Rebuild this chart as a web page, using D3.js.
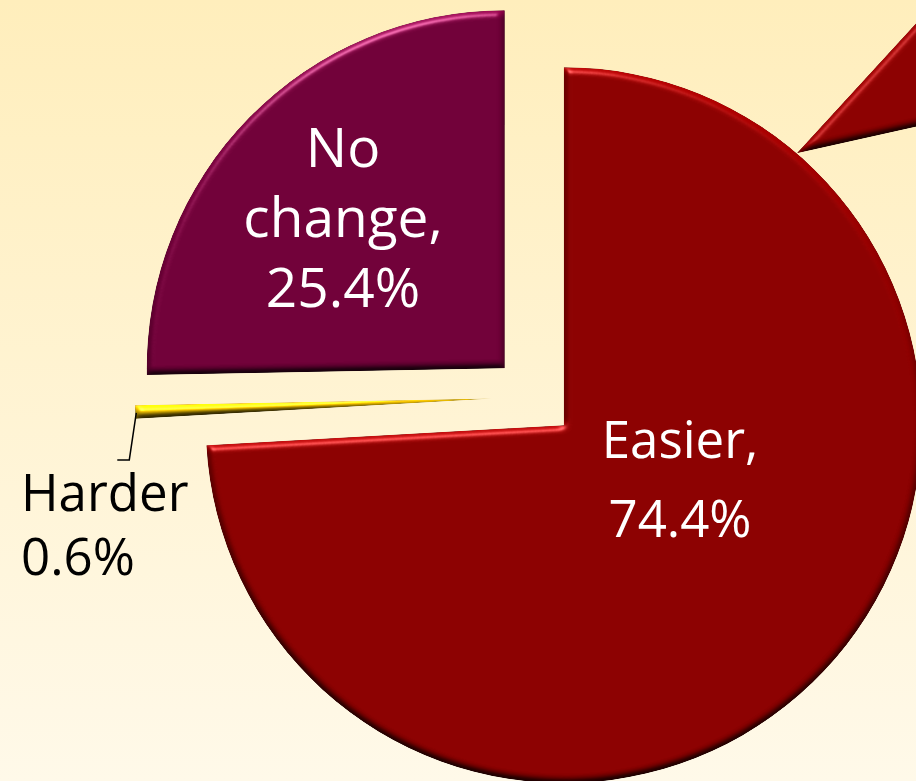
<!DOCTYPE html>
<html>
<head>
<meta charset="utf-8">
<script src="https://cdn.jsdelivr.net/npm/d3@7"></script>
<style>
  html, body { margin: 0; padding: 0; overflow: hidden; }
  svg { display: block; }
</style>
</head>
<body>
<script>
// ---- data ----
const categories = ["Easier", "Harder", "No change"];
const values = [74.4, 0.6, 25.4];
const labelLines = [["Easier,", "74.4%"], ["Harder", "0.6%"], ["No", "change,", "25.4%"]];
const colors = ["#8B0000", "#E9BA00", "#700038"];

// ---- layout ----
const W = 916, H = 781;
const cx = 534, cy = 397, R = 358, explode = 41;

const svg = d3.select("body").append("svg").attr("width", W).attr("height", H);
const defs = svg.append("defs");

const bg = defs.append("linearGradient").attr("id", "bg").attr("x1", 0).attr("y1", 0).attr("x2", 0).attr("y2", 1);
bg.append("stop").attr("offset", "0%").attr("stop-color", "#FFEEBC");
bg.append("stop").attr("offset", "100%").attr("stop-color", "#FFF9E9");

const elev = 50;
const f = defs.append("filter").attr("id", "bevel")
  .attr("x", "-2%").attr("y", "-2%").attr("width", "104%").attr("height", "104%")
  .attr("color-interpolation-filters", "sRGB");
f.append("feGaussianBlur").attr("in", "SourceAlpha").attr("stdDeviation", 3.6).attr("result", "b");
f.append("feDiffuseLighting").attr("in", "b").attr("surfaceScale", 4).attr("diffuseConstant", 1)
  .attr("lighting-color", "#fff").attr("result", "d")
  .append("feDistantLight").attr("azimuth", 270).attr("elevation", elev);
f.append("feComposite").attr("in", "SourceGraphic").attr("in2", "d").attr("operator", "arithmetic")
  .attr("k1", 1 / Math.sin(elev * Math.PI / 180)).attr("k2", 0).attr("k3", 0).attr("k4", 0).attr("result", "lit");
f.append("feSpecularLighting").attr("in", "b").attr("surfaceScale", 4).attr("specularConstant", 0.4)
  .attr("specularExponent", 40).attr("lighting-color", "#fff").attr("result", "s")
  .append("feDistantLight").attr("azimuth", 250).attr("elevation", 40);
f.append("feComposite").attr("in", "s").attr("in2", "SourceAlpha").attr("operator", "in").attr("result", "s2");
f.append("feComposite").attr("in", "lit").attr("in2", "s2").attr("operator", "arithmetic")
  .attr("k1", 0).attr("k2", 1).attr("k3", 1).attr("k4", 0).attr("result", "sum");
f.append("feComposite").attr("in", "sum").attr("in2", "SourceAlpha").attr("operator", "in");

svg.append("rect").attr("width", W).attr("height", H).attr("fill", "url(#bg)");

const pie = d3.pie().sort(null).value(d => d)(values);
const arc = d3.arc().innerRadius(0).outerRadius(R);
const polar = (a, r) => [Math.sin(a) * r, -Math.cos(a) * r];

const offsets = pie.map(p => polar((p.startAngle + p.endAngle) / 2, explode));

// callout wedge touching the Easier slice (top right)
const eo = offsets[0];
const tipA = 40.6 * Math.PI / 180;
const tip = polar(tipA, R);
svg.append("path")
  .attr("transform", `translate(${cx + eo[0] + tip[0]},${cy + eo[1] + tip[1]})`)
  .attr("d", d3.arc().innerRadius(0).outerRadius(260)({startAngle: 42.5 * Math.PI / 180, endAngle: 77.4 * Math.PI / 180}))
  .attr("fill", colors[0])
  .attr("filter", "url(#bevel)");

const g = svg.selectAll("g.slice").data(pie).join("g")
  .attr("class", "slice")
  .attr("transform", (d, i) => `translate(${cx + offsets[i][0]},${cy + offsets[i][1]})`);

g.append("path")
  .attr("d", arc)
  .attr("fill", (d, i) => colors[i])
  .attr("filter", "url(#bevel)");

// ---- labels ----
const font = "'Segoe UI', 'Open Sans', 'Noto Sans', sans-serif";
const labelStyle = [
  {x: 680, y: 458, size: 51, lh: 79, anchor: "middle", fill: "#fff"},
  {x: 21, y: 511, size: 51, lh: 64, anchor: "start", fill: "#000"},
  {x: 343, y: 167, size: 55, lh: 70, anchor: "middle", fill: "#fff"}
];

labelLines.forEach((lines, i) => {
  const s = labelStyle[i];
  const t = svg.append("text")
    .attr("x", s.x).attr("y", s.y)
    .attr("text-anchor", s.anchor)
    .attr("font-family", font)
    .attr("font-size", s.size)
    .attr("fill", s.fill);
  lines.forEach((ln, j) => {
    t.append("tspan").attr("x", s.x).attr("dy", j === 0 ? 0 : s.lh).text(ln);
  });
});

// leader line for Harder
const hp = pie[1];
const hA = (hp.startAngle + hp.endAngle) / 2;
const hTip = polar(hA, R);
const hx = cx + offsets[1][0] + hTip[0] + 1, hy = cy + offsets[1][1] + hTip[1] + 1;
svg.append("path")
  .attr("d", d3.line()([[hx, hy], [hx - 7, hy + 47], [hx - 19, hy + 47]]))
  .attr("fill", "none").attr("stroke", "#000").attr("stroke-width", 1.5);
</script>
</body>
</html>
